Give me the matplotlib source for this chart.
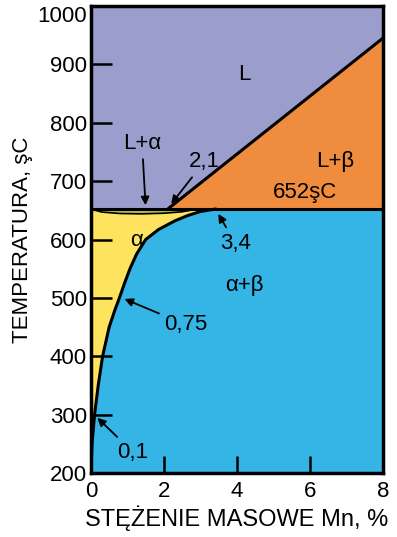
import numpy as np
import matplotlib.pyplot as plt

plt.rcParams['font.family'] = ['Liberation Sans', 'DejaVu Sans']

# solvus of alpha (Mn %, temperature)
solvus_x = [0, 0.03, 0.1, 0.2, 0.32, 0.5, 0.65, 0.78, 0.92, 1.07, 1.25, 1.5, 1.85, 2.3, 2.65, 3.0, 3.4]
solvus_t = [200, 250, 300, 350, 400, 450, 478, 500, 525, 550, 575, 600, 617, 632, 641, 648, 652]
# liquidus L / L+beta
liq_x = [2.1, 8.0]
liq_t = [652, 945]
# thin L+alpha lens under the eutectic line
lens_x = [0, 0.3, 0.8, 1.4, 2.0, 2.5, 2.9]
lens_t = [652, 647, 644.5, 644, 645, 647.5, 652]
eutectic_t = 652

c_liq = '#9b9dcc'
c_beta = '#ef8c3d'
c_alpha = '#fde35e'
c_ab = '#35b5e5'
c_lens = '#b5bf5c'

fig = plt.figure(figsize=(3.97, 5.37), dpi=100)
ax = fig.add_axes([0.229, 0.119, 0.736, 0.870])
ax.set_facecolor(c_liq)
ax.set_xlim(0, 8)
ax.set_ylim(200, 1000)

# alpha+beta
ax.fill_betweenx(solvus_t, solvus_x, 8, color=c_ab, lw=0)
# alpha
ax.fill_betweenx(solvus_t, 0, solvus_x, color=c_alpha, lw=0)
# L+beta
ax.fill_between(liq_x, eutectic_t, liq_t, color=c_beta, lw=0)
# lens
ax.fill_between(lens_x, lens_t, eutectic_t, color=c_lens, lw=0)

ax.plot(solvus_x, solvus_t, color='black', lw=2.2, solid_joinstyle='round')
ax.plot(liq_x, liq_t, color='black', lw=2.2)
ax.plot(lens_x, lens_t, color='black', lw=1.2)
ax.axhline(eutectic_t, color='black', lw=2.2)

fs = 16
ax.text(4.2, 882, 'L', fontsize=fs, ha='center', va='center')
ax.text(6.7, 733, 'L+β', fontsize=fs, ha='center', va='center')
ax.text(5.85, 680, '652şC', fontsize=fs, ha='center', va='center')
ax.text(1.25, 598, 'α', fontsize=fs, ha='center', va='center')
ax.text(4.2, 522, 'α+β', fontsize=fs, ha='center', va='center')

ap = dict(arrowstyle='-|>', color='black', lw=1.3, mutation_scale=12)
ax.annotate('L+α', xy=(1.5, 654), xytext=(1.4, 765), fontsize=fs,
            ha='center', va='center', arrowprops=ap)
ax.annotate('2,1', xy=(2.15, 657), xytext=(3.1, 733), fontsize=fs,
            ha='center', va='center', arrowprops=ap)
ax.annotate('3,4', xy=(3.45, 648), xytext=(3.95, 594), fontsize=fs,
            ha='center', va='center', arrowprops=ap)
ax.annotate('0,75', xy=(0.85, 500), xytext=(2.6, 454), fontsize=fs,
            ha='center', va='center', arrowprops=ap)
ax.annotate('0,1', xy=(0.12, 298), xytext=(1.15, 236), fontsize=fs,
            ha='center', va='center', arrowprops=ap)

ax.set_xticks([0, 2, 4, 6, 8])
ax.set_yticks(range(200, 1001, 100))
ax.tick_params(axis='y', direction='in', length=15, width=1.8, labelsize=16, pad=3)
ax.tick_params(axis='x', direction='in', length=12, width=1.8, labelsize=16, pad=6)
for s in ax.spines.values():
    s.set_linewidth(2.5)

# top label sits just under the frame corner
ax.get_yticklabels()[-1].set_va('top')

ax.set_xlabel('STĘŻENIE MASOWE Mn, %', fontsize=17, labelpad=2)
ax.set_ylabel('TEMPERATURA, şC', fontsize=16, labelpad=3)

fig.savefig('out.png', dpi=100)
